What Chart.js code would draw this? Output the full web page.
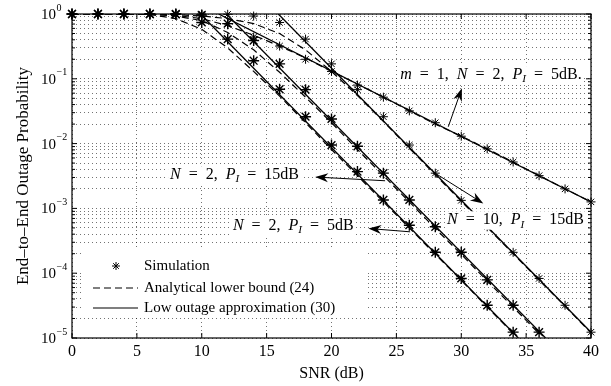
<!DOCTYPE html>
<html lang="en">
<head>
<meta charset="UTF-8" />
<title>End-to-End Outage Probability</title>
<script src="https://cdn.jsdelivr.net/npm/chart.js"></script>
<style>
  html,body{margin:0;padding:0;background:#fff;}
  #wrap{position:relative;width:611px;height:386px;}
</style>
</head>
<body>
<div id="wrap"><canvas id="chart"></canvas></div>
<script>
// SNR grid (dB) for simulation points and lower bounds
const snr = [0,2,4,6,8,10,12,14,16,18,20,22,24,26,28,30,32,34,36,38,40];

// Simulation (stars)
const simA = [1,1,1,1,1,0.97,0.71,0.44,0.32,0.20,0.13,0.080,0.052,0.032,0.021,0.013,8.3e-3,5.2e-3,3.2e-3,2.0e-3,1.26e-3]; // m=1, N=2, PI=5dB
const simB = [1,1,1,1,1,1,0.99,0.93,0.74,0.41,0.17,0.068,0.026,9.5e-3,3.5e-3,1.33e-3,5.2e-4,2.1e-4,8.3e-5,3.2e-5,1.23e-5]; // N=10, PI=15dB
const simC = [1,1,1,1,1,0.96,0.71,0.39,0.17,0.068,0.024,9.1e-3,3.5e-3,1.35e-3,5.2e-4,2.1e-4,7.9e-5,3.2e-5,1.23e-5]; // N=2, PI=15dB
const simD = [1,1,1,1,0.99,0.74,0.41,0.19,0.069,0.026,9.5e-3,3.7e-3,1.35e-3,5.5e-4,2.1e-4,8.3e-5,3.2e-5,1.23e-5]; // N=2, PI=5dB

// Analytical lower bound (dashed)
const lbA = [1,1,1,1,0.95,0.85,0.66,0.47,0.32,0.21,0.13,0.083,0.052,0.032,0.020,0.013,8.3e-3,5.2e-3,3.2e-3,2.0e-3,1.26e-3];
const lbB = [1,1,1,1,0.98,0.93,0.85,0.71,0.50,0.28,0.13,0.055,0.022,8.5e-3,3.3e-3,1.29e-3,5.1e-4,2.0e-4,7.8e-5,3.1e-5,1.2e-5];
const lbC = [1,1,1,1,0.93,0.79,0.52,0.28,0.126,0.052,0.021,8.1e-3,3.2e-3,1.26e-3,4.9e-4,1.95e-4,7.6e-5,3.0e-5,1.17e-5];
const lbD = [1,1,1,0.98,0.85,0.58,0.30,0.13,0.054,0.021,8.1e-3,3.2e-3,1.26e-3,5.0e-4,1.95e-4,7.8e-5,3.0e-5,1.17e-5];

// Low outage approximation (solid straight asymptotes): SNR and value at ends
const apxA_x = [11.3, 40], apxA = [1, 1.26e-3];
const apxB_x = [15.9, 40], apxB = [1, 1.23e-5];
const apxC_x = [11.9, 36.5], apxC = [1, 1e-5];
const apxD_x = [9.9, 34.4], apxD = [1, 1e-5];

// axis ticks
const xTicks = [0,5,10,15,20,25,30,35,40];
const yPowers = [0,-1,-2,-3,-4,-5];

// annotations: text at (x, y) and arrows tail -> head
const S = '\u2002';
const notes = [
  {x: 25.3, y: 0.115, parts: [['m',1],[S+'='+S+'1,'+S,0],['N',1],[S+'='+S+'2,'+S,0],['P',1],['I',2],[S+'='+S+'5dB.',0]]},
  {x: 7.56, y: 3.27e-3, parts: [['N',1],[S+'='+S+'2,'+S,0],['P',1],['I',2],[S+'='+S+'15dB',0]]},
  {x: 28.9, y: 6.6e-4, parts: [['N',1],[S+'='+S+'10,'+S,0],['P',1],['I',2],[S+'='+S+'15dB',0]]},
  {x: 12.4, y: 5.4e-4, parts: [['N',1],[S+'='+S+'2,'+S,0],['P',1],['I',2],[S+'='+S+'5dB',0]]}
];
const arrows = [
  [29.0, 0.0182, 30.05, 0.0716],
  [24.13, 2.67e-3, 18.74, 3.05e-3],
  [28.0, 3.48e-3, 31.7, 1.19e-3],
  [26.06, 4.35e-4, 22.84, 4.9e-4]
];

const FONT = '"Liberation Serif", "Times New Roman", serif';
const pts = (xs, ys) => ys.map((y, i) => ({x: xs[i], y}));

function stars(data, r, w) {
  return {type: 'scatter', data: pts(snr, data), showLine: false, pointStyle: 'star',
    pointRadius: r, pointBorderWidth: w, borderColor: '#000', backgroundColor: '#000', clip: false};
}
function dashed(data) {
  return {type: 'line', data: pts(snr, data), borderColor: '#000', borderWidth: 1.2,
    borderDash: [7, 4], pointRadius: 0, tension: 0, fill: false};
}
function solid(xs, data) {
  return {type: 'line', data: pts(xs, data), borderColor: '#000', borderWidth: 1.3,
    pointRadius: 0, tension: 0, fill: false};
}

function textWidth(ctx, parts, size) {
  let w = 0;
  for (const [t, kind] of parts) {
    ctx.font = (kind ? 'italic ' : '') + (kind === 2 ? size * 0.7 : size) + 'px ' + FONT;
    w += ctx.measureText(t).width;
  }
  return w;
}
function richText(ctx, parts, x, y, size) {
  const w = textWidth(ctx, parts, size);
  ctx.fillStyle = '#fff';
  ctx.fillRect(x - 2, y - size * 0.55, w + 4, size * 1.15);
  ctx.fillStyle = '#000';
  let cx = x;
  for (const [t, kind] of parts) {
    const fs = kind === 2 ? size * 0.7 : size;
    ctx.font = (kind ? 'italic ' : '') + fs + 'px ' + FONT;
    ctx.fillText(t, cx, y + (kind === 2 ? size * 0.28 : 0));
    cx += ctx.measureText(t).width;
  }
}

function arrow(ctx, x1, y1, x2, y2) {
  const a = Math.atan2(y2 - y1, x2 - x1), L = 13, W = 4.5;
  ctx.beginPath(); ctx.moveTo(x1, y1); ctx.lineTo(x2 - Math.cos(a) * 6, y2 - Math.sin(a) * 6); ctx.stroke();
  ctx.save(); ctx.translate(x2, y2); ctx.rotate(a);
  ctx.beginPath(); ctx.moveTo(0, 0); ctx.lineTo(-L, -W); ctx.lineTo(-L * 0.7, 0); ctx.lineTo(-L, W); ctx.closePath();
  ctx.fill(); ctx.restore();
}

const decor = {
  id: 'decor',
  afterDraw(chart) {
    const {ctx, chartArea: a, scales: {x, y}} = chart;
    ctx.save();
    ctx.strokeStyle = '#000'; ctx.fillStyle = '#000';
    // annotations (white background under text)
    ctx.textBaseline = 'middle'; ctx.textAlign = 'left';
    notes.forEach(n => richText(ctx, n.parts, x.getPixelForValue(n.x), y.getPixelForValue(n.y), 16));
    ctx.lineWidth = 1;
    arrows.forEach(([x1, y1, x2, y2]) =>
      arrow(ctx, x.getPixelForValue(x1), y.getPixelForValue(y1), x.getPixelForValue(x2), y.getPixelForValue(y2)));
    // box
    ctx.lineWidth = 1.2;
    ctx.strokeRect(a.left, a.top, a.right - a.left, a.bottom - a.top);
    // inward ticks
    ctx.lineWidth = 1;
    ctx.beginPath();
    xTicks.forEach(v => {
      const px = x.getPixelForValue(v);
      ctx.moveTo(px, a.bottom); ctx.lineTo(px, a.bottom - 5);
      ctx.moveTo(px, a.top); ctx.lineTo(px, a.top + 5);
    });
    y.ticks.forEach(t => {
      const py = y.getPixelForValue(t.value);
      const len = t.major ? 5 : 3;
      ctx.moveTo(a.left, py); ctx.lineTo(a.left + len, py);
      ctx.moveTo(a.right, py); ctx.lineTo(a.right - len, py);
    });
    ctx.stroke();
    // y tick labels 10^n
    yPowers.forEach(p => {
      const py = y.getPixelForValue(Math.pow(10, p));
      ctx.font = '15px ' + FONT; ctx.textAlign = 'right';
      ctx.fillText('10', 56, py + 1);
      ctx.font = '10px ' + FONT; ctx.textAlign = 'left';
      ctx.fillText(p === 0 ? '0' : '\u2212' + (-p), 56.5, py - 6);
    });
    // legend
    const lx = 82, ly = 247;
    ctx.fillStyle = '#fff';
    ctx.fillRect(lx, ly, 283, 69);
    ctx.fillStyle = '#000';
    ctx.font = '15px ' + FONT; ctx.textAlign = 'left';
    const rows = [266, 288, 308];
    ctx.fillText('Simulation', 144, rows[0]);
    ctx.fillText('Analytical lower bound (24)', 144, rows[1]);
    ctx.fillText('Low outage approximation (30)', 144, rows[2]);
    ctx.lineWidth = 1;
    const r = 4; ctx.beginPath();
    ctx.moveTo(116 - r, rows[0]); ctx.lineTo(116 + r, rows[0]);
    ctx.moveTo(116, rows[0] - r); ctx.lineTo(116, rows[0] + r);
    const d = r * 0.707;
    ctx.moveTo(116 - d, rows[0] - d); ctx.lineTo(116 + d, rows[0] + d);
    ctx.moveTo(116 - d, rows[0] + d); ctx.lineTo(116 + d, rows[0] - d);
    ctx.stroke();
    ctx.lineWidth = 1.2;
    ctx.setLineDash([7, 4]);
    ctx.beginPath(); ctx.moveTo(93, rows[1]); ctx.lineTo(138, rows[1]); ctx.stroke();
    ctx.setLineDash([]);
    ctx.beginPath(); ctx.moveTo(93, rows[2]); ctx.lineTo(138, rows[2]); ctx.stroke();
    ctx.restore();
  }
};

const gridStyle = {color: 'rgba(0,0,0,0.55)', lineWidth: 1, drawTicks: false};

new Chart(document.getElementById('chart'), {
  data: {
    datasets: [
      stars(simA, 4.5, 1), stars(simB, 4.5, 1), stars(simC, 5.5, 1.4), stars(simD, 5.5, 1.4),
      dashed(lbA), dashed(lbB), dashed(lbC), dashed(lbD),
      solid(apxA_x, apxA), solid(apxB_x, apxB), solid(apxC_x, apxC), solid(apxD_x, apxD)
    ]
  },
  options: {
    responsive: true, maintainAspectRatio: false, animation: false,
    layout: {padding: {left: 0, right: 20, top: 14, bottom: 0}},
    plugins: {legend: {display: false}, tooltip: {enabled: false}},
    scales: {
      x: {
        type: 'linear', min: 0, max: 40,
        afterBuildTicks: s => { s.ticks = xTicks.map(v => ({value: v})); },
        afterFit: s => { s.height = 48; },
        grid: gridStyle,
        border: {display: false, dash: [1, 3]},
        ticks: {color: '#000', padding: 4, font: {family: FONT, size: 16}, maxRotation: 0},
        title: {display: true, text: 'SNR (dB)', color: '#000', font: {family: FONT, size: 16},
          padding: {top: 0, bottom: 3}}
      },
      y: {
        type: 'logarithmic', min: 1e-5, max: 1,
        afterBuildTicks: s => {
          const t = [];
          for (let p = -5; p < 0; p++) for (let k = 1; k <= 9; k++) t.push({value: k * Math.pow(10, p), major: k === 1});
          t.push({value: 1, major: true});
          s.ticks = t;
        },
        afterFit: s => { s.width = 72; },
        grid: gridStyle,
        border: {display: false, dash: [1, 3]},
        ticks: {display: false},
        title: {display: true, text: 'End\u2013to\u2013End Outage Probability', color: '#000',
          font: {family: FONT, size: 17}, padding: {top: 13, bottom: 0}}
      }
    }
  },
  plugins: [decor]
});
</script>
</body>
</html>
